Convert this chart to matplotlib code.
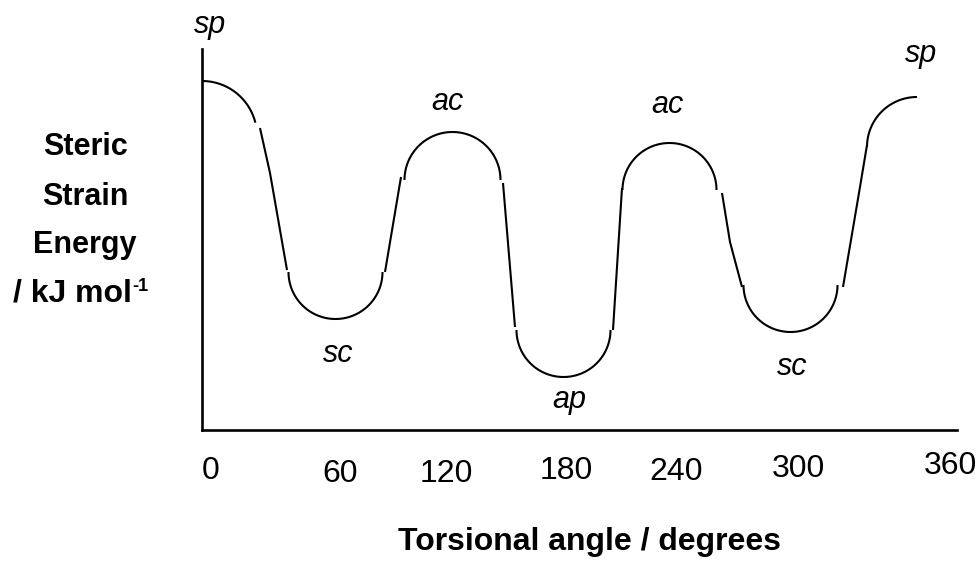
import numpy as np
import matplotlib
matplotlib.use("Agg")
import matplotlib.pyplot as plt

plt.rcParams["font.family"] = ["Liberation Sans", "DejaVu Sans"]

# conformations along the torsion (angle in degrees, energy in arbitrary units)
conformations = ["sp", "sc", "ac", "ap", "ac", "sc", "sp"]
arc_angle = [0, 66.75, 125.25, 180.75, 233.75, 294.25, 357.5]
arc_energy = [147, 79, 125, 50, 120, 72.5, 141.5]
arc_radius = [27.5, 23.5, 24, 23.5, 23.5, 23.5, 25]
arc_sweep = [(90, 14), (180, 360), (0, 180), (180, 360), (0, 180), (180, 360), (90, 180)]

# straight flanks joining the arcs
flank_angle = [[29, 34, 42.5], [91.5, 99.5], [150.5, 156.5], [205.5, 210],
               [260, 264, 270], [320.5, 329, 332.5]]
flank_energy = [[151, 128.5, 80], [79, 126.5], [123.5, 51.5], [50, 121],
                [118.5, 94, 71.5], [71.5, 121.5, 142.5]]

# label positions for the conformation names
label_angle = [4, 68, 122.75, 183.75, 232.75, 295, 359.75]
label_energy = [198.5, 34, 160, 11, 158.5, 27.5, 184]

tick_values = [0, 60, 120, 180, 240, 300, 360]
tick_pos_x = [4.5, 69, 122, 182, 237, 298, 374]
tick_pos_y = [-24.5, -26, -26, -24.5, -25, -23.5, -22]

W, H = 978, 563
fig = plt.figure(figsize=(W / 100, H / 100), dpi=100)
ax = fig.add_axes([202 / W, (H - 430) / H, (957 - 202) / W, (430 - 49) / H])
ax.set_xlim(0, 377.5)
ax.set_ylim(0, 190.5)
ax.set_xticks([])
ax.set_yticks([])
for side in ["top", "right"]:
    ax.spines[side].set_visible(False)
for side in ["left", "bottom"]:
    ax.spines[side].set_linewidth(1.9)

lw = 1.5
for cx, cy, r, (t0, t1) in zip(arc_angle, arc_energy, arc_radius, arc_sweep):
    t = np.radians(np.linspace(t0, t1, 80))
    ax.plot(cx + r * np.cos(t), cy + r * np.sin(t), color="black", lw=lw,
            solid_capstyle="butt", clip_on=False)

for xs, ys in zip(flank_angle, flank_energy):
    ax.plot(xs, ys, color="black", lw=lw, solid_capstyle="butt", clip_on=False)

for name, x, y in zip(conformations, label_angle, label_energy):
    ax.text(x, y, name, fontsize=22, style="italic", ha="center",
            va="baseline", clip_on=False)

for v, x, y in zip(tick_values, tick_pos_x, tick_pos_y):
    ax.text(x, y, str(v), fontsize=23, ha="center", va="baseline", clip_on=False)

ylabel_lines = ["Steric", "Strain", "Energy"]
ylabel_base = [155, 205, 253]
for txt, yb in zip(ylabel_lines, ylabel_base):
    fig.text(85 / W, 1 - yb / H, txt, fontsize=22, fontweight="bold",
             ha="center", va="baseline")

# last line with a raised "-1"
unit = fig.text(13 / W, 1 - 302 / H, "/ kJ mol", fontsize=23, fontweight="bold",
                ha="left", va="baseline")
ax.annotate("-1", xy=(1, 1), xycoords=unit, xytext=(0.5, 1),
            textcoords="offset points", fontsize=13, fontweight="bold",
            ha="left", va="top")

fig.text(590 / W, 1 - 550 / H, "Torsional angle / degrees", fontsize=23,
         fontweight="bold", ha="center", va="baseline")

fig.savefig("out.png", dpi=100)
